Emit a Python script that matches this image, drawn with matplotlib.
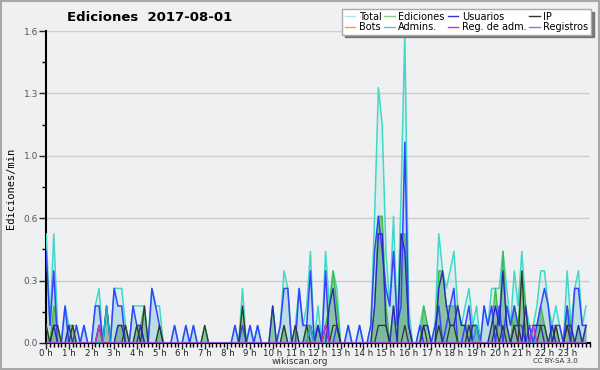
import numpy as np
import matplotlib
matplotlib.use("Agg")
from matplotlib import pyplot as plt
from matplotlib.ticker import MultipleLocator, FormatStrFormatter
from matplotlib.lines import Line2D
from matplotlib.patches import Rectangle

# 10-minute bins over the day, edits per minute
n_bins = 144
hour_labels = [f"{h} h" for h in range(24)]

total = [
    .56, .09, .56, .09, 0, .19, .09, .09, .09, 0, .09, 0,
    0, .19, .28, 0, .19, 0, .28, .28, .28, .09, 0, .19,
    .19, .19, .19, 0, .28, .19, .19, 0, 0, 0, .09, 0,
    0, .09, 0, .09, 0, 0, .09, 0, 0, 0, 0, 0,
    0, 0, .09, 0, .28, 0, .09, 0, .09, 0, 0, 0,
    .19, 0, .09, .37, .28, 0, .09, .28, .09, .19, .47, 0,
    .19, 0, .47, .19, .37, .28, 0, 0, .09, 0, 0, .09,
    0, 0, .09, .65, 1.31, 1.12, .47, .19, .65, .09, .75, 1.59,
    .19, 0, 0, .09, .19, .09, 0, .09, .56, .37, .28, .37,
    .47, .19, .09, .19, .28, .09, .19, 0, .19, .09, .28, .28,
    .28, .47, .28, .09, .37, .19, .47, .19, .09, .09, .19, .37,
    .37, .19, .09, .19, .09, 0, .37, .09, .28, .37, .09, .19,
]

registros = [
    .47, .09, .37, 0, 0, .19, 0, 0, .09, 0, .09, 0,
    0, .19, .19, 0, 0, 0, .28, .19, .19, 0, 0, .19,
    .09, .09, 0, 0, .28, .19, .09, 0, 0, 0, .09, 0,
    0, .09, 0, .09, 0, 0, 0, 0, 0, 0, 0, 0,
    0, 0, .09, 0, .09, 0, .09, 0, .09, 0, 0, 0,
    0, 0, .09, .28, .28, 0, 0, .28, .09, .09, .37, 0,
    .09, 0, .37, 0, 0, .09, 0, 0, .09, 0, 0, .09,
    0, 0, .09, .47, .65, .47, .28, .19, .47, .09, .19, 1.03,
    .09, 0, 0, .09, 0, 0, 0, .09, .19, 0, .09, .19,
    .28, 0, 0, .09, .19, 0, .09, 0, .19, .09, .19, 0,
    .19, 0, .19, .09, .19, .09, .09, 0, .09, 0, .09, .19,
    .28, .19, 0, .09, .09, 0, .19, 0, .28, .28, .09, .09,
]

ediciones = [
    .09, 0, .19, .09, 0, 0, .09, .09, 0, 0, 0, 0,
    0, 0, .09, 0, .19, 0, 0, .09, .09, .09, 0, 0,
    .09, .09, .19, 0, 0, 0, .09, 0, 0, 0, 0, 0,
    0, 0, 0, 0, 0, 0, .09, 0, 0, 0, 0, 0,
    0, 0, 0, 0, .19, 0, 0, 0, 0, 0, 0, 0,
    .19, 0, 0, .09, 0, 0, .09, 0, 0, .09, .09, 0,
    .09, 0, .09, .19, .37, .19, 0, 0, 0, 0, 0, 0,
    0, 0, 0, .19, .65, .65, .19, 0, .19, 0, .56, .56,
    .09, 0, 0, 0, .19, .09, 0, 0, .37, .37, .19, .19,
    .19, .19, .09, .09, .09, .09, .09, 0, 0, 0, .09, .28,
    .09, .47, .09, 0, .19, .09, .37, .19, 0, .09, .09, .19,
    .09, 0, .09, .09, 0, 0, .19, .09, 0, .09, 0, .09,
]

usuarios = [
    0, 0, .09, 0, 0, 0, .09, 0, 0, 0, 0, 0,
    0, 0, .09, 0, .19, 0, 0, .09, .09, 0, 0, 0,
    0, .09, 0, 0, 0, 0, 0, 0, 0, 0, 0, 0,
    0, 0, 0, 0, 0, 0, 0, 0, 0, 0, 0, 0,
    0, 0, 0, 0, 0, 0, 0, 0, 0, 0, 0, 0,
    .19, 0, 0, 0, 0, 0, 0, 0, 0, 0, .09, 0,
    .09, 0, 0, .19, .28, .09, 0, 0, 0, 0, 0, 0,
    0, 0, 0, .19, .56, .56, .09, 0, .19, 0, .56, .47,
    .09, 0, 0, 0, .09, .09, 0, 0, .28, .37, .19, .09,
    .09, .19, .09, .09, 0, .09, .09, 0, 0, 0, .09, .19,
    .09, .37, .09, 0, .09, .09, 0, .19, 0, .09, .09, .09,
    0, 0, .09, 0, 0, 0, .09, .09, 0, .09, 0, .09,
]

ip = [
    .09, 0, .09, .09, 0, 0, 0, .09, 0, 0, 0, 0,
    0, 0, 0, 0, 0, 0, 0, 0, 0, .09, 0, 0,
    .09, 0, .19, 0, 0, 0, .09, 0, 0, 0, 0, 0,
    0, 0, 0, 0, 0, 0, .09, 0, 0, 0, 0, 0,
    0, 0, 0, 0, .19, 0, 0, 0, 0, 0, 0, 0,
    0, 0, 0, .09, 0, 0, .09, 0, 0, .09, 0, 0,
    0, 0, .09, 0, .09, .09, 0, 0, 0, 0, 0, 0,
    0, 0, 0, 0, .09, .09, .09, 0, 0, 0, 0, .09,
    0, 0, 0, 0, .09, 0, 0, 0, .09, 0, 0, .09,
    .09, 0, 0, 0, .09, 0, 0, 0, 0, 0, 0, .09,
    0, .09, 0, 0, .09, 0, .37, 0, 0, 0, 0, .09,
    .09, 0, 0, .09, 0, 0, .09, 0, 0, 0, 0, 0,
]

admins = [
    0, 0, 0, 0, 0, 0, 0, 0, 0, 0, 0, 0,
    0, 0, 0, 0, .19, 0, 0, 0, 0, 0, 0, 0,
    0, 0, 0, 0, 0, 0, 0, 0, 0, 0, 0, 0,
    0, 0, 0, 0, 0, 0, 0, 0, 0, 0, 0, 0,
    0, 0, 0, 0, 0, 0, 0, 0, 0, 0, 0, 0,
    0, 0, 0, 0, 0, 0, 0, 0, 0, 0, .09, 0,
    0, 0, 0, 0, 0, 0, 0, 0, 0, 0, 0, 0,
    0, 0, 0, 0, 0, 0, 0, 0, 0, 0, 0, 0,
    0, 0, 0, 0, 0, 0, 0, 0, 0, 0, 0, 0,
    0, 0, 0, 0, 0, 0, .09, 0, 0, 0, 0, 0,
    0, 0, 0, 0, 0, 0, 0, 0, 0, 0, 0, 0,
    0, 0, 0, 0, 0, 0, 0, 0, 0, 0, 0, 0,
]

reg_adm = [
    0, 0, 0, 0, 0, 0, 0, 0, 0, 0, 0, 0,
    0, 0, .09, 0, 0, 0, 0, 0, 0, 0, 0, 0,
    0, 0, 0, 0, 0, 0, 0, 0, 0, 0, 0, 0,
    0, 0, 0, 0, 0, 0, 0, 0, 0, 0, 0, 0,
    0, 0, 0, 0, 0, 0, 0, 0, 0, 0, 0, 0,
    0, 0, 0, 0, 0, 0, 0, 0, 0, 0, 0, 0,
    0, 0, .09, 0, 0, 0, 0, 0, 0, 0, 0, 0,
    0, 0, 0, 0, 0, 0, 0, 0, 0, 0, 0, 0,
    0, 0, 0, 0, 0, 0, 0, 0, 0, 0, 0, 0,
    0, 0, 0, 0, 0, 0, 0, 0, 0, 0, 0, 0,
    0, 0, 0, 0, 0, 0, 0, 0, 0, .09, 0, 0,
    0, 0, 0, 0, 0, 0, 0, 0, 0, 0, 0, 0,
]

bots = [0.0] * n_bins

BG = '#eff0f2'
C_TOTAL = '#40d8c8'
C_EDIT = '#44bb44'
C_USER = '#2a2ab8'
C_IP = '#333333'
C_BOT = '#ff9933'
C_ADMIN = '#20b0d8'
C_REGADM = '#cc33cc'
C_LOG = '#3344ff'


def main():
    x = np.arange(n_bins) / 6

    fig = plt.figure(figsize=(6, 3.7), dpi=100, facecolor=BG)
    fig.patches.append(Rectangle((0.001, 0.002), 0.997, 0.995, transform=fig.transFigure,
                                 fill=False, edgecolor='#a8a8a8', lw=1.5))
    ax = fig.add_axes([0.077, 0.073, 0.906, 0.843])
    ax.set_facecolor(BG)

    # fills
    ax.fill_between(x, total, color=C_TOTAL, alpha=0.10, lw=0, zorder=1)
    ax.fill_between(x, registros, color='#9cc8dc', alpha=0.45, lw=0, zorder=2)
    ax.fill_between(x, ediciones, color='#3a9a5a', alpha=0.5, lw=0, zorder=3)

    # lines
    ax.plot(x, total, color=C_TOTAL, lw=1.1, zorder=4)
    ax.plot(x, ediciones, color=C_EDIT, lw=1.0, zorder=5)
    ax.plot(x, registros, color=C_LOG, lw=1.1, zorder=6)
    ax.plot(x, usuarios, color=C_USER, lw=1.0, zorder=7)
    ax.plot(x, ip, color=C_IP, lw=0.9, zorder=8)
    ax.plot(x, admins, color=C_ADMIN, lw=1.0, zorder=8)
    ax.plot(x, reg_adm, color=C_REGADM, lw=1.0, zorder=8)
    ax.plot(x, bots, color=C_BOT, lw=0, zorder=0)

    ax.set_xlim(0, 24)
    ax.set_ylim(0, 1.6)
    ax.set_yticks([0, 0.32, 0.64, 0.96, 1.28, 1.6])
    ax.yaxis.set_major_formatter(FormatStrFormatter('%.1f'))
    ax.yaxis.set_minor_locator(MultipleLocator(0.16))
    ax.set_xticks(range(24))
    ax.set_xticklabels(hour_labels)
    ax.xaxis.set_minor_locator(MultipleLocator(1 / 6))
    ax.grid(axis='y', which='major', color='#cccccc', lw=1, zorder=0)
    ax.set_axisbelow(True)
    ax.tick_params(axis='x', which='major', length=4, width=1, labelsize=6.2, pad=0.5, colors='#222222')
    ax.tick_params(axis='y', which='major', length=5, width=1, labelsize=6.5, pad=1, colors='#222222',
                   labelcolor='#555555')
    ax.tick_params(axis='both', which='minor', length=3, width=1)
    for s in ('top', 'right'):
        ax.spines[s].set_visible(False)
    for s in ('left', 'bottom'):
        ax.spines[s].set_linewidth(1.5)

    fig.text(0.25, 0.953, 'Ediciones  2017-08-01', fontsize=9.5, weight='bold', ha='center', va='center')
    fig.text(0.018, 0.49, 'Ediciones/min', rotation=90, fontsize=7.5, family='DejaVu Sans Mono',
             ha='center', va='center')
    fig.text(0.5, 0.023, 'wikiscan.org', fontsize=6.5, ha='center', va='center', color='#333333')
    fig.text(0.926, 0.023, 'CC BY-SA 3.0', fontsize=5, ha='center', va='center', color='#333333')

    # legend, column-major order for 4 columns x 2 rows
    entries = [('Total', '#a8e8e0'), ('Bots', C_BOT), ('Ediciones', '#88cc88'), ('Admins.', '#50c8e0'),
               ('Usuarios', '#3333cc'), ('Reg. de adm.', C_REGADM), ('IP', C_IP), ('Registros', '#7777ee')]
    handles = [Line2D([], [], color=c, lw=1) for _, c in entries]
    labels = [t for t, _ in entries]
    fig.legend(handles, labels, loc='upper right', bbox_to_anchor=(0.985, 0.975), ncol=4, fontsize=7,
               frameon=True, fancybox=False, shadow={'color': '#777777', 'alpha': 1},
               edgecolor='#aaaaaa', framealpha=1, handlelength=1.1, columnspacing=0.3,
               handletextpad=0.35, labelspacing=0.05, borderpad=0.25, borderaxespad=0)

    fig.savefig('out.png', dpi=100, facecolor=BG)


if __name__ == '__main__':
    main()
